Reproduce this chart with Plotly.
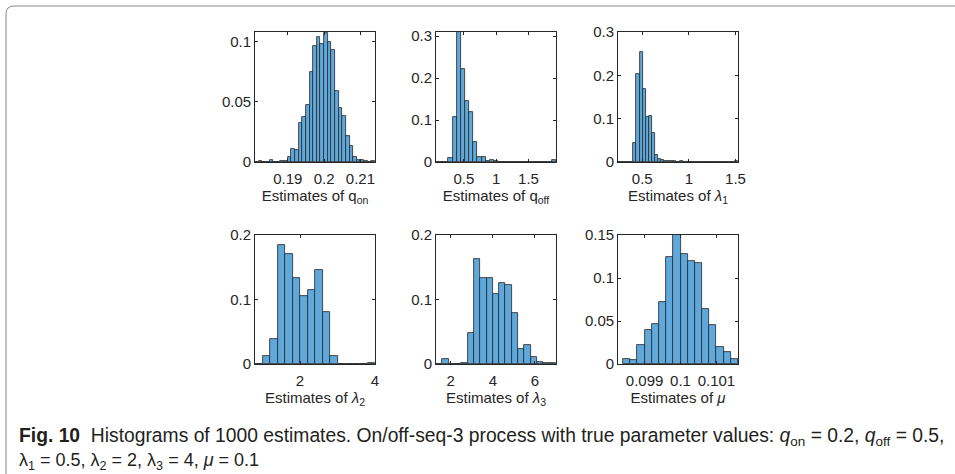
import plotly.graph_objects as go

# ---------------- data (probability-normalised histograms of 1000 estimates) ----------------
qon_start = 0.181
qon_width = 0.001
qon_probs = [0, 0.001, 0, 0, 0.002, 0, 0, 0.001, 0.001, 0.004, 0.011, 0.010, 0.032,
             0.037, 0.047, 0.075, 0.096, 0.104, 0.098, 0.107, 0.100, 0.093, 0.059,
             0.045, 0.038, 0.022, 0.013, 0.004, 0.002, 0.002, 0.001, 0, 0.001]

qoff_start = 0.07
qoff_width = 0.064
qoff_probs = [0.001, 0.001, 0, 0.010, 0.108, 0.310, 0.222, 0.146, 0.120, 0.048,
              0.012, 0.012, 0.002, 0.004, 0.002, 0.001, 0.001, 0, 0, 0, 0, 0, 0,
              0, 0, 0, 0, 0, 0.004]

lam1_start = 0.24
lam1_width = 0.033
lam1_probs = [0, 0.001, 0.001, 0, 0, 0.043, 0.203, 0.254, 0.168, 0.105, 0.106,
              0.066, 0.017, 0.008, 0.004, 0.002, 0.003, 0.002, 0.002, 0.001, 0.002,
              0.001, 0, 0, 0.001, 0, 0, 0, 0, 0, 0, 0, 0, 0, 0, 0, 0, 0, 0.003]

lam2_start = 0.8
lam2_width = 0.2
lam2_probs = [0, 0.013, 0.039, 0.184, 0.171, 0.133, 0.106, 0.115, 0.145, 0.081,
              0.012, 0, 0, 0, 0, 0.001]

lam3_start = 1.3
lam3_width = 0.3
lam3_probs = [0, 0.007, 0, 0, 0.001, 0.048, 0.163, 0.133, 0.133, 0.109, 0.126,
              0.122, 0.079, 0.024, 0.030, 0.011, 0.003, 0.002, 0.002]

mu_start = 0.0984
mu_width = 0.0002
mu_probs = [0.0055, 0.0043, 0.022, 0.040, 0.047, 0.0725, 0.124, 0.152, 0.128,
            0.120, 0.118, 0.064, 0.045, 0.020, 0.0145, 0.0055]

x_titles = ["Estimates of q<sub>on</sub>", "Estimates of q<sub>off</sub>",
            "Estimates of <i>λ</i><sub>1</sub>", "Estimates of <i>λ</i><sub>2</sub>",
            "Estimates of <i>λ</i><sub>3</sub>", "Estimates of <i>μ</i>"]
x_ticks = [[0.19, 0.2, 0.21], [0.5, 1, 1.5], [0.5, 1, 1.5], [2, 4], [2, 4, 6],
           [0.099, 0.1, 0.101]]
x_ticklabels = [["0.19", "0.2", "0.21"], ["0.5", "1", "1.5"], ["0.5", "1", "1.5"],
                ["2", "4"], ["2", "4", "6"], ["0.099", "0.1", "0.101"]]
y_ticks = [[0, 0.05, 0.1], [0, 0.1, 0.2, 0.3], [0, 0.1, 0.2, 0.3], [0, 0.1, 0.2],
           [0, 0.1, 0.2], [0, 0.05, 0.1, 0.15]]
y_ticklabels = [["0", "0.05", "0.1"], ["0", "0.1", "0.2", "0.3"],
                ["0", "0.1", "0.2", "0.3"], ["0", "0.1", "0.2"], ["0", "0.1", "0.2"],
                ["0", "0.05", "0.1", "0.15"]]
x_ranges = [[0.181, 0.214], [0.07, 0.07 + 29 * 0.064], [0.24, 0.24 + 39 * 0.033],
            [0.8, 4.0], [1.3, 7.0], [0.09826, 0.1016]]
y_ranges = [[0, 0.108], [0, 0.31], [0, 0.3], [0, 0.2], [0, 0.2], [0, 0.15]]

caption_line1 = ("<b>Fig. 10</b>  Histograms of 1000 estimates. On/off-seq-3 process with true "
                 "parameter values: <i>q</i><sub>on</sub> = 0.2, <i>q</i><sub>off</sub> = 0.5,")
caption_line2 = ("λ<sub>1</sub> = 0.5, λ<sub>2</sub> = 2, λ<sub>3</sub> = 4, <i>μ</i> = 0.1")

panels = [(qon_start, qon_width, qon_probs), (qoff_start, qoff_width, qoff_probs),
          (lam1_start, lam1_width, lam1_probs), (lam2_start, lam2_width, lam2_probs),
          (lam3_start, lam3_width, lam3_probs), (mu_start, mu_width, mu_probs)]

# ---------------- layout geometry ----------------
W, H = 955, 474
def px(x):
    return x / W
def py(y):
    return 1 - y / H

col_px = [(255, 375), (436, 556), (618, 738)]
row_px = [(32, 162), (235, 364)]

FILL = "#5FA8DB"
EDGE = "#262626"
TXT = "#262626"
FONT = "Liberation Sans, Arial, sans-serif"

fig = go.Figure()
layout = dict(
    width=W, height=H, autosize=False, margin=dict(l=0, r=0, t=0, b=0, pad=0),
    paper_bgcolor="white", plot_bgcolor="white", showlegend=False,
    bargap=0, font=dict(family=FONT, size=15, color=TXT),
)

for i, (start, width, probs) in enumerate(panels):
    r, c = divmod(i, 3)
    n = i + 1
    xa = "x" if n == 1 else f"x{n}"
    ya = "y" if n == 1 else f"y{n}"
    centers = [start + width * (k + 0.5) for k in range(len(probs))]
    fig.add_trace(go.Bar(
        x=centers, y=probs, width=width, xaxis=xa, yaxis=ya,
        marker=dict(color=FILL, line=dict(color=EDGE, width=0.8)),
        hoverinfo="x+y",
    ))
    common = dict(showline=True, mirror="ticks", linecolor=EDGE, linewidth=0.8,
                  ticks="inside", ticklen=3, tickcolor=EDGE, tickwidth=0.8,
                  showgrid=False, zeroline=False, automargin=False,
                  tickfont=dict(size=15, color=TXT))
    layout[f"xaxis{'' if n == 1 else n}"] = dict(
        common, domain=[px(col_px[c][0]), px(col_px[c][1])], anchor=ya,
        range=x_ranges[i], tickvals=x_ticks[i], ticktext=x_ticklabels[i],
        ticklabelstandoff=3,
        title=dict(text=x_titles[i], font=dict(size=15, color=TXT), standoff=3),
    )
    layout[f"yaxis{'' if n == 1 else n}"] = dict(
        common, domain=[py(row_px[r][1]), py(row_px[r][0])], anchor=xa,
        range=y_ranges[i], tickvals=y_ticks[i], ticktext=y_ticklabels[i],
    )

CAP_FONT = "Liberation Sans Narrow, Arial Narrow, sans-serif"
layout["annotations"] = [
    dict(text=caption_line1, x=px(17), y=py(437), xref="paper", yref="paper",
         xanchor="left", yanchor="middle", showarrow=False,
         font=dict(family=CAP_FONT, size=19.3, color="#231f20")),
    dict(text=caption_line2, x=px(17), y=py(461), xref="paper", yref="paper",
         xanchor="left", yanchor="middle", showarrow=False,
         font=dict(family=CAP_FONT, size=18, color="#231f20")),
]
layout["shapes"] = [
    dict(type="path", xref="paper", yref="paper",
         path=f"M {px(6)},{py(480)} L {px(6)},{py(14)} Q {px(6)},{py(6)} {px(14)},{py(6)} L {px(960)},{py(6)}",
         line=dict(color="#8a8a8a", width=1)),
]
fig.update_layout(**layout)
fig.write_html("out.html", config={"displayModeBar": False},
               post_script="document.body.style.margin='0';document.body.style.overflow='hidden';")
